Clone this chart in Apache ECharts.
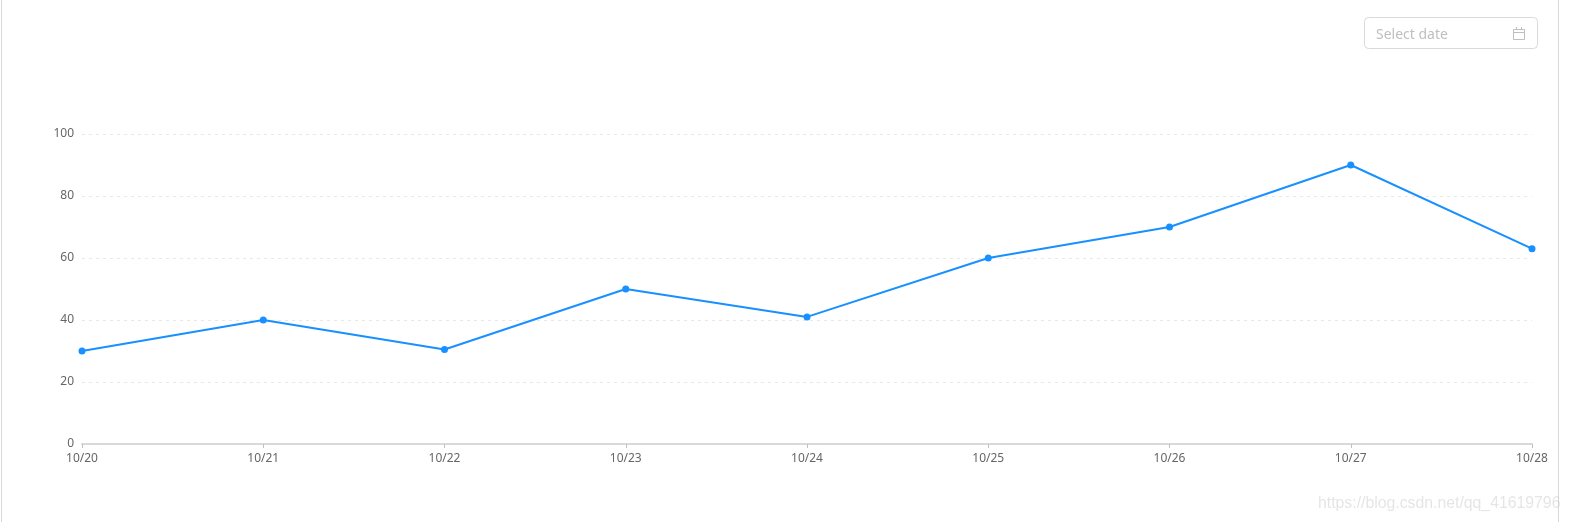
<!DOCTYPE html>
<html>
<head>
<meta charset="utf-8">
<title>chart</title>
<style>
html,body{margin:0;padding:0;background:#fff;overflow:hidden}
#container{width:1571px;height:522px}
</style>
<script src="https://cdn.jsdelivr.net/npm/echarts@6/dist/echarts.min.js"></script>
</head>
<body>
<div id="container"></div>
<script>
var dates = ['10/20','10/21','10/22','10/23','10/24','10/25','10/26','10/27','10/28'];
var values = [30,40,30.5,50,41,60,70,90,63];
var yTicks = [0,20,40,60,80,100];
var placeholder = 'Select date';
var watermark = 'https://blog.csdn.net/qq_41619796';

var fontName = '"Noto Sans", "Open Sans", sans-serif';
var chart = echarts.init(document.getElementById('container'));
var option = {
    animation: false,
    backgroundColor: '#fff',
    grid: {left: 82, right: 39, top: 134, bottom: 78},
    xAxis: {
        type: 'category',
        data: dates,
        boundaryGap: false,
        axisLine: {lineStyle: {color: '#d9d9d9', width: 2}},
        axisTick: {length: 4, lineStyle: {color: '#bfbfbf'}},
        axisLabel: {color: '#666', fontSize: 12, fontFamily: fontName, margin: 9, hideOverlap: false, showMaxLabel: true, showMinLabel: true}
    },
    yAxis: {
        type: 'value',
        min: yTicks[0],
        max: yTicks[yTicks.length - 1],
        interval: 20,
        axisLine: {show: false},
        axisTick: {show: false},
        axisLabel: {color: '#666', fontSize: 12, fontFamily: fontName, margin: 8},
        splitLine: {lineStyle: {color: '#e8e8e8', type: [3, 4]}}
    },
    series: [{
        type: 'line',
        data: values,
        symbol: 'circle',
        symbolSize: 7,
        itemStyle: {color: '#1890ff'},
        lineStyle: {color: '#1890ff', width: 2}
    }],
    graphic: [
        // panel borders, left and right only
        {type: 'line', silent: true, shape: {x1: 1.5, y1: 0, x2: 1.5, y2: 522}, style: {stroke: '#d9d9d9', lineWidth: 1}},
        {type: 'line', silent: true, shape: {x1: 1558.5, y1: 0, x2: 1558.5, y2: 522}, style: {stroke: '#d9d9d9', lineWidth: 1}},
        // date picker
        {type: 'rect', silent: true, shape: {x: 1364.5, y: 17.5, width: 173, height: 31, r: 4}, style: {fill: '#fff', stroke: '#d9d9d9', lineWidth: 1}},
        {type: 'text', silent: true, x: 1376, y: 35, style: {text: placeholder, fill: '#bfbfbf', font: '14px ' + fontName, textVerticalAlign: 'middle'}},
        {type: 'rect', silent: true, shape: {x: 1513.5, y: 29.5, width: 11, height: 10}, style: {fill: 'none', stroke: '#bfbfbf', lineWidth: 1}},
        {type: 'line', silent: true, shape: {x1: 1513, y1: 32.5, x2: 1525, y2: 32.5}, style: {stroke: '#bfbfbf', lineWidth: 1}},
        {type: 'line', silent: true, shape: {x1: 1516.5, y1: 27, x2: 1516.5, y2: 29}, style: {stroke: '#bfbfbf', lineWidth: 1}},
        {type: 'line', silent: true, shape: {x1: 1521.5, y1: 27, x2: 1521.5, y2: 29}, style: {stroke: '#bfbfbf', lineWidth: 1}},
        // watermark
        {type: 'text', silent: true, x: 1318, y: 504, style: {text: watermark, fill: 'rgba(190,190,190,0.4)', font: '15.8px "Liberation Sans", Arial, sans-serif', textVerticalAlign: 'middle'}}
    ]
};
chart.setOption(option);
</script>
</body>
</html>
